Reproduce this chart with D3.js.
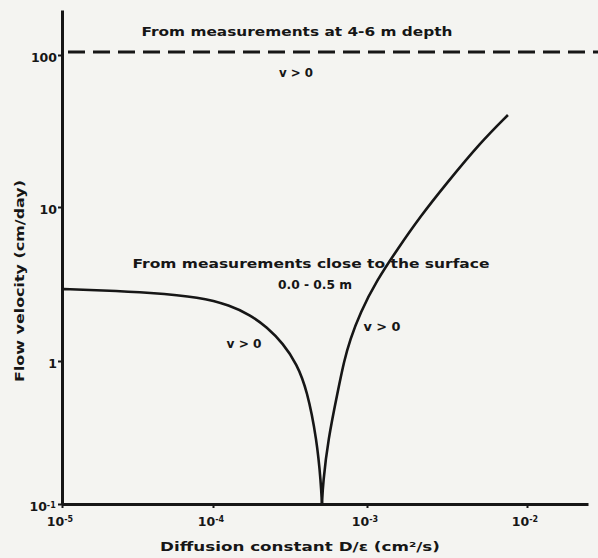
<!DOCTYPE html>
<html>
<head>
<meta charset="utf-8">
<script src="https://cdn.jsdelivr.net/npm/d3@7"></script>
<style>
  body { margin: 0; background: #f4f4f1; }
  svg text { font-family: "DejaVu Sans", sans-serif; font-weight: bold; fill: #161616; }
</style>
</head>
<body>
<div id="chart"></div>
<script>
// Axis ticks (hand-drawn figure, decades are not quite evenly spaced)
const xTickValues = [1e-5, 1e-4, 1e-3, 1e-2];
const xTickExps = ["-5", "-4", "-3", "-2"];
const yTickValues = [0.1, 1, 10, 100];
const yTickLabels = ["10", "1", "10", "100"];
const yTickExps = ["-1", "", "", ""];

// axis extents
const xAxisEnd = 0.024;
const yAxisTop = 200;

// dashed level: measurements at 4-6 m depth
const deepLevel = 100;

// curve left of the minimum  [D/eps (cm2/s), v (cm/day)]
const leftCurve = [
  [1.03e-5, 2.93], [1.81e-5, 2.88], [3.85e-5, 2.78], [8.21e-5, 2.60],
  [1.29e-4, 2.30], [1.74e-4, 1.99], [2.24e-4, 1.66], [2.85e-4, 1.30],
  [3.51e-4, 0.95], [4.08e-4, 0.627], [4.73e-4, 0.280], [5.02e-4, 0.140],
  [5.10e-4, 0.1]
];

// curve right of the minimum
const rightCurve = [
  [5.10e-4, 0.1], [5.18e-4, 0.140], [5.58e-4, 0.280], [6.49e-4, 0.627],
  [7.10e-4, 1.00], [7.76e-4, 1.37], [9.01e-4, 2.05], [1.155e-3, 3.36],
  [1.54e-3, 5.26], [2.14e-3, 8.61], [3.16e-3, 14.4], [5.09e-3, 26.4],
  [7.60e-3, 40.3]
];

const width = 598, height = 558;
const ink = "#161616";

const svg = d3.select("#chart").append("svg")
    .attr("width", width)
    .attr("height", height);

// piecewise log scales so each decade sits where it was drawn
const x = d3.scaleLog()
    .domain([...xTickValues, xAxisEnd])
    .range([62, 213, 367, 527, 588]);

const y = d3.scaleLog()
    .domain([...yTickValues, yAxisTop])
    .range([504, 361, 207, 55, 10]);

// x axis
const xAxis = svg.append("g")
    .attr("transform", `translate(0,${y(0.1)})`)
    .call(d3.axisBottom(x)
        .tickValues(xTickValues)
        .tickFormat(() => "10")
        .tickSize(4)
        .tickSizeOuter(0)
        .tickPadding(8));

// y axis
const yAxis = svg.append("g")
    .attr("transform", `translate(${x(1e-5)},0)`)
    .call(d3.axisLeft(y)
        .tickValues(yTickValues)
        .tickFormat((d, i) => yTickLabels[i])
        .tickSize(4)
        .tickSizeOuter(0)
        .tickPadding(1));

[xAxis, yAxis].forEach(g => {
  g.select(".domain").attr("stroke", ink).attr("stroke-width", 3);
  g.selectAll(".tick line").attr("stroke", ink).attr("stroke-width", 2);
  g.selectAll(".tick text")
      .attr("fill", ink)
      .style("font-size", "12.5px")
      .style("font-family", "DejaVu Sans, sans-serif")
      .style("font-weight", "bold");
});

// superscript exponents on the tick labels
xAxis.selectAll(".tick text")
    .attr("dy", "0.8em")
    .attr("dx", "-0.2em")
    .append("tspan")
    .attr("dy", "-0.45em")
    .style("font-size", "8px")
    .text((d, i) => xTickExps[i]);

yAxis.selectAll(".tick text")
    .attr("dy", "0.55em")
    .each(function(d, i) {
      if (yTickExps[i]) {
        d3.select(this).attr("dx", "-0.1em").append("tspan")
            .attr("dy", "-0.45em")
            .style("font-size", "8px")
            .text(yTickExps[i]);
      }
    });

// dashed line for the deep measurements
svg.append("line")
    .attr("x1", x(1e-5) + 6)
    .attr("x2", width)
    .attr("y1", y(deepLevel) - 3)
    .attr("y2", y(deepLevel) - 3)
    .attr("stroke", ink)
    .attr("stroke-width", 3)
    .attr("stroke-dasharray", "17,8");

// the two branches
const line = d3.line()
    .x(d => x(d[0]))
    .y(d => y(d[1]))
    .curve(d3.curveBasis);

[leftCurve, rightCurve].forEach(c => {
  svg.append("path")
      .datum(c)
      .attr("fill", "none")
      .attr("stroke", ink)
      .attr("stroke-width", 2.6)
      .attr("d", line);
});

// annotations
function label(txt, cx, base, size, len) {
  const t = svg.append("text")
      .attr("x", cx)
      .attr("y", base)
      .attr("text-anchor", "middle")
      .style("font-size", size + "px")
      .text(txt);
  if (len) t.attr("textLength", len).attr("lengthAdjust", "spacingAndGlyphs");
  return t;
}

label("From measurements at 4-6 m depth", 297, 36, 12.5, 311);
label("v > 0", 296, 77, 11.5, 34);
label("From measurements close to the surface", 311, 268, 12.5, 357);
label("0.0 - 0.5 m", 315, 289, 12, 74);
label("v > 0", 244, 348, 11.5, 35);
label("v > 0", 382, 331, 11.5, 37);

// axis titles
label("Diffusion constant D/\u03B5  (cm\u00B2/s)", 300, 551, 12.5, 280);

svg.append("text")
    .attr("transform", "translate(24,281) rotate(-90)")
    .attr("text-anchor", "middle")
    .attr("textLength", 202)
    .attr("lengthAdjust", "spacingAndGlyphs")
    .style("font-size", "12.5px")
    .text("Flow velocity  (cm/day)");
</script>
</body>
</html>
